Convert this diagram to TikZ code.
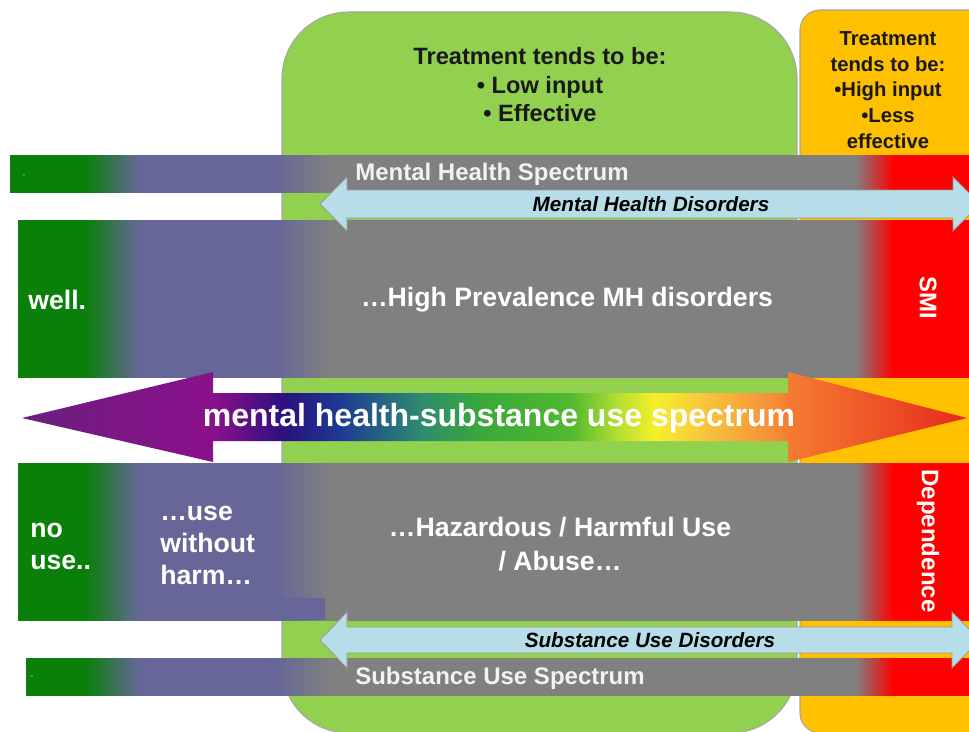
\documentclass[tikz,border=0pt]{standalone}
\usepackage{fontspec}
\setmainfont{Liberation Sans}
\definecolor{cGreen}{HTML}{0A800A}
\definecolor{cPurple}{HTML}{666699}
\definecolor{cGray}{HTML}{808080}
\definecolor{cRed}{HTML}{FF0000}
\definecolor{boxGreen}{HTML}{92D050}
\definecolor{boxOrange}{HTML}{FFC000}
\definecolor{lblue}{HTML}{B7DEE8}
\definecolor{a1}{HTML}{6B1F7E}
\definecolor{a2}{HTML}{8B108B}
\definecolor{a3}{HTML}{2A1080}
\definecolor{a4}{HTML}{1C3A94}
\definecolor{a5}{HTML}{2E8A70}
\definecolor{a6}{HTML}{3AA83A}
\definecolor{a7}{HTML}{50B830}
\definecolor{a8}{HTML}{B8E030}
\definecolor{a9}{HTML}{F5F02A}
\definecolor{a10}{HTML}{F8C83C}
\definecolor{a11}{HTML}{F5903A}
\definecolor{a12}{HTML}{F47B30}
\definecolor{a13}{HTML}{E62A1E}
\pgfdeclarehorizontalshading{bandshade}{100bp}{color(0bp)=(cGreen); color(29.39bp)=(cGreen); color(32.22bp)=(cPurple); color(39.19bp)=(cPurple); color(42.03bp)=(cGray); color(69.12bp)=(cGray); color(71.08bp)=(cRed); color(100bp)=(cRed)}
\pgfdeclarehorizontalshading{rainbow}{100bp}{color(0bp)=(a1); color(26.14bp)=(a1); color(35.99bp)=(a2); color(39.71bp)=(a3); color(42.54bp)=(a4); color(46.67bp)=(a5); color(49.77bp)=(a6); color(54.41bp)=(a7); color(56.99bp)=(a8); color(58.80bp)=(a9); color(61.12bp)=(a10); color(64.73bp)=(a11); color(65.76bp)=(a12); color(74.90bp)=(a13); color(100bp)=(a13)}
\begin{document}
\begin{tikzpicture}[x=0.75pt,y=-0.75pt,
  bandtxt/.style={text=white,font=\bfseries\fontsize{20pt}{24pt}\selectfont,inner sep=0pt},
  specttxt/.style={text=white!95!black,font=\bfseries\fontsize{18pt}{21pt}\selectfont,inner sep=0pt},
  distxt/.style={text=black,font=\bfseries\itshape\fontsize{15.5pt}{18pt}\selectfont,inner sep=0pt},
  treattxt/.style={text=black!90,font=\bfseries,align=center,inner sep=0pt},
  lbarrow/.style={fill=lblue,draw=black!40,line width=0.6pt},
  boxline/.style={draw=black!35,line width=0.8pt}]
\useasboundingbox (0,0) rectangle (969,731);
\clip (0,0) rectangle (969,731);
% background boxes
\draw[boxline,fill=boxGreen,rounded corners=50pt] (282,12) rectangle (797,733);
\draw[boxline,fill=boxOrange,rounded corners=15pt] (800,10) rectangle (1000,733);
% gradient bands
\foreach \ya/\yb/\xa in {155/192/10, 220/377/18, 463/620/18, 658/695/26}{
  \begin{scope}
    \clip (\xa,\ya) rectangle (969,\yb);
    \shade[shading=bandshade] (0,\ya) rectangle (969,\yb);
  \end{scope}
}
\fill[cPurple] (280,598) rectangle (325,620);
% light blue arrows
\draw[lbarrow] (320,204) -- (347,177) -- (347,190) -- (953,190) -- (953,177) -- (980,204) -- (953,231) -- (953,218) -- (347,218) -- (347,231) -- cycle;
\draw[lbarrow] (320,640) -- (347,612) -- (347,627) -- (952,627) -- (952,612) -- (980,640) -- (952,668) -- (952,653) -- (347,653) -- (347,668) -- cycle;
% big rainbow arrow
\begin{scope}
  \clip (22,418) -- (213,372) -- (213,393) -- (788,393) -- (788,372) -- (967,418) -- (788,462) -- (788,441) -- (213,441) -- (213,462) -- cycle;
  \shade[shading=rainbow] (0,372) rectangle (969,462);
\end{scope}
% texts
\node[treattxt,font=\bfseries\fontsize{17.7pt}{21.4pt}\selectfont] (tgreen) at (540,85) {Treatment tends to be:\\ • Low input\\ • Effective};
\node[treattxt,font=\bfseries\fontsize{15.2pt}{19.3pt}\selectfont] (torange) at (888,90) {Treatment\\ tends to be:\\ •High input\\ •Less\\ effective};
\node[text=white!80!gray,font=\fontsize{6pt}{7pt}\selectfont,inner sep=0pt] (dash1) at (24,176) {-};
\node[text=white!80!gray,font=\fontsize{6pt}{7pt}\selectfont,inner sep=0pt] (dash2) at (32,677) {-};
\node[specttxt] (mhs) at (492,174) {Mental Health Spectrum};
\node[distxt] (mhd) at (651,204) {Mental Health Disorders};
\node[bandtxt,anchor=west] (well) at (28,300) {well.};
\node[bandtxt] (hp) at (567,300) {…High Prevalence MH disorders};
\node[bandtxt,font=\bfseries\fontsize{18pt}{21pt}\selectfont,rotate=-90] (smi) at (928,298) {SMI};
\node[text=white,font=\bfseries\fontsize{24pt}{28pt}\selectfont,inner sep=0pt] (mhsu) at (499,418) {mental health-substance use spectrum};
\node[bandtxt,anchor=west,align=left,font=\bfseries\fontsize{20pt}{24pt}\selectfont] (nouse) at (30,546) {no\\use..};
\node[bandtxt,anchor=west,align=left,font=\bfseries\fontsize{20pt}{24pt}\selectfont] (uwh) at (160,545) {…use\\without\\harm…};
\node[bandtxt,align=center,font=\bfseries\fontsize{20pt}{25.5pt}\selectfont] (haz) at (560,544) {…Hazardous / Harmful Use\\ / Abuse…};
\node[bandtxt,font=\bfseries\fontsize{18pt}{21pt}\selectfont,rotate=-90] (dep) at (928,541) {Dependence};
\node[distxt] (sud) at (650,640) {Substance Use Disorders};
\node[specttxt] (sus) at (500,678) {Substance Use Spectrum};
\end{tikzpicture}
\end{document}
